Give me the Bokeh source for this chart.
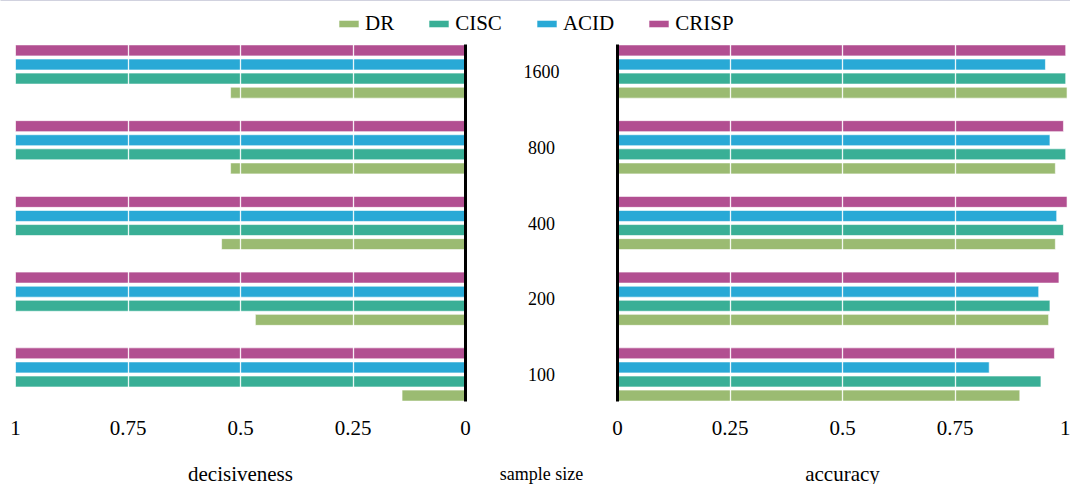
from bokeh.plotting import figure
from bokeh.layouts import column, row
from bokeh.models import Range1d, FixedTicker, Legend, LegendItem, ColumnDataSource
from bokeh.transform import dodge
from bokeh.embed import file_html
from bokeh.resources import INLINE
from bokeh.core.properties import value

# ---------------- data ----------------
sizes = ["100", "200", "400", "800", "1600"]
methods = ["DR", "CISC", "ACID", "CRISP"]
colors = ["#9bbb72", "#39af96", "#29a9d6", "#b24f91"]

dec_DR = [0.141, 0.467, 0.542, 0.522, 0.522]
dec_CISC = [1.0, 1.0, 1.0, 1.0, 1.0]
dec_ACID = [1.0, 1.0, 1.0, 1.0, 1.0]
dec_CRISP = [1.0, 1.0, 1.0, 1.0, 1.0]

acc_DR = [0.894, 0.958, 0.973, 0.973, 0.999]
acc_CISC = [0.941, 0.961, 0.991, 0.996, 0.996]
acc_ACID = [0.826, 0.936, 0.976, 0.961, 0.951]
acc_CRISP = [0.971, 0.981, 0.999, 0.991, 0.996]

# ---------------- styling ----------------
FONT = "Liberation Serif"
pos = list(range(len(sizes)))
src = ColumnDataSource(dict(
    pos=pos, label=sizes,
    dec_DR=dec_DR, dec_CISC=dec_CISC, dec_ACID=dec_ACID, dec_CRISP=dec_CRISP,
    acc_DR=acc_DR, acc_CISC=acc_CISC, acc_ACID=acc_ACID, acc_CRISP=acc_CRISP,
))
offsets = {"DR": -0.279, "CISC": -0.093, "ACID": 0.093, "CRISP": 0.279}
BAR_H = 0.145
yr = Range1d(-0.357, len(sizes) - 1 + 0.357)
FRAME_H = 357
TOP = 8


def style_xaxis(p, label):
    ax = p.xaxis[0]
    ax.ticker = FixedTicker(ticks=[0, 0.25, 0.5, 0.75, 1])
    ax.major_label_overrides = {0: "0", 0.25: "0.25", 0.5: "0.5", 0.75: "0.75", 1: "1"}
    ax.axis_line_color = None
    ax.major_tick_line_color = None
    ax.minor_tick_line_color = None
    ax.major_tick_out = 0
    ax.minor_tick_out = 0
    ax.major_label_standoff = 19
    ax.major_label_text_font = FONT
    ax.major_label_text_font_size = "21px"
    ax.major_label_text_color = "black"
    ax.axis_label = label
    ax.axis_label_text_font = FONT
    ax.axis_label_text_font_size = "21px"
    ax.axis_label_text_font_style = "normal"
    ax.axis_label_text_color = "black"
    ax.axis_label_standoff = 24


def style_yaxis(p):
    ax = p.yaxis[0]
    ax.ticker = FixedTicker(ticks=[])
    ax.axis_line_color = "black"
    ax.axis_line_width = 3
    ax.major_tick_out = 0
    ax.minor_tick_out = 0
    ax.major_tick_in = 0
    ax.minor_tick_in = 0
    ax.major_label_standoff = 0


def style_grid(p):
    p.ygrid.visible = False
    g = p.xgrid[0]
    g.ticker = FixedTicker(ticks=[0.25, 0.5, 0.75])
    g.grid_line_color = "white"
    g.grid_line_alpha = 0.9
    g.grid_line_width = 1.3
    g.level = "overlay"


def bars(p, prefix):
    for m, c in zip(methods, colors):
        p.hbar(y=dodge("pos", offsets[m], range=p.y_range), left=0, right=f"{prefix}_{m}",
               height=BAR_H, fill_color=c, line_color="white", line_alpha=0.6,
               line_width=1, source=src)


# left: decisiveness (reversed)
left = figure(frame_width=450, frame_height=FRAME_H, x_range=Range1d(1, 0), y_range=yr,
              output_backend="svg", toolbar_location=None, y_axis_location="right",
              min_border_left=15, min_border_right=6, min_border_top=TOP, min_border_bottom=0,
              outline_line_color=None)
bars(left, "dec")
style_grid(left)
style_xaxis(left, "decisiveness")
style_yaxis(left)

# middle: sample size labels
mid = figure(frame_width=140, frame_height=FRAME_H, x_range=Range1d(0, 1), y_range=yr,
             output_backend="svg", toolbar_location=None, y_axis_location=None,
             min_border_left=0, min_border_right=0, min_border_top=TOP, min_border_bottom=0,
             outline_line_color=None)
mid.grid.visible = False
mid.text(x=0.5, y="pos", text="label", source=src, text_align="center",
         text_baseline="middle", text_font=value(FONT), text_font_size="18px",
         text_color="black")
mx = mid.xaxis[0]
mx.ticker = FixedTicker(ticks=[])
mx.axis_line_color = None
mx.major_tick_out = 0
mx.minor_tick_out = 0
mx.major_label_standoff = 0
mx.axis_label = "sample size"
mx.axis_label_text_font = FONT
mx.axis_label_text_font_size = "18px"
mx.axis_label_text_font_style = "normal"
mx.axis_label_text_color = "black"
mx.axis_label_standoff = 62

# right: accuracy
right = figure(frame_width=450, frame_height=FRAME_H, x_range=Range1d(0, 1), y_range=yr,
               output_backend="svg", toolbar_location=None, y_axis_location="left",
               min_border_left=6, min_border_right=3, min_border_top=TOP, min_border_bottom=0,
               outline_line_color=None)
bars(right, "acc")
style_grid(right)
style_xaxis(right, "accuracy")
style_yaxis(right)

# legend strip
leg = figure(width=1070, height=36, x_range=Range1d(0, 1), y_range=Range1d(0, 1),
             output_backend="svg", toolbar_location=None, x_axis_location=None,
             y_axis_location=None, min_border=0, outline_line_color=None)
leg.grid.visible = False
items = []
for m, c in zip(methods, colors):
    r = leg.hbar(y=[5], left=[0], right=[1], height=0.5, fill_color=c,
                 line_color="white", line_alpha=0.6)
    items.append(LegendItem(label=m, renderers=[r]))
legend = Legend(items=items, orientation="horizontal", location=(336, 0),
                glyph_width=25, glyph_height=9, label_standoff=4, spacing=32,
                padding=0, margin=0, border_line_color=None, background_fill_alpha=0,
                label_text_font=FONT, label_text_font_size="21px", label_text_color="black")
leg.add_layout(legend)

layout = column(leg, row(left, mid, right))

open("out.html", "w").write(file_html(layout, INLINE))
